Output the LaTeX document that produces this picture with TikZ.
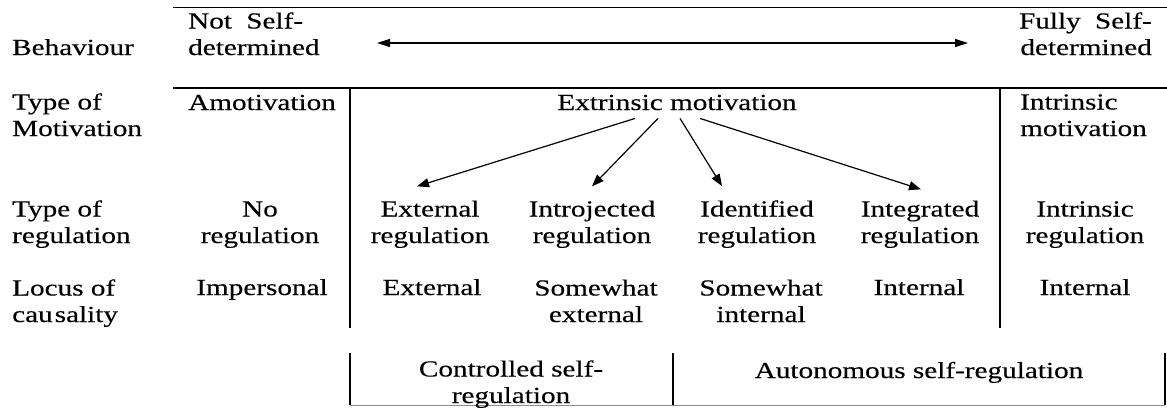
\documentclass[tikz,border=0pt]{standalone}
\usepackage{fontspec}
\setmainfont{Liberation Serif}[FakeStretch=1.27,FakeBold=0.3]
\usetikzlibrary{arrows.meta,calc}
\begin{document}
\begin{tikzpicture}[x=1pt,y=-1pt,
  txt/.style={inner sep=0pt,font=\fontsize{23}{26.5}\selectfont},
  ctr/.style={txt,align=center,anchor=base},
  lft/.style={txt,align=left,anchor=base west},
  rgt/.style={txt,align=right,anchor=base east},
  thinrule/.style={line width=1pt},
  thickrule/.style={line width=2pt},
  vrule/.style={line width=1.4pt},
  arr/.style={line width=1.2pt,-{Triangle[length=12pt,width=9pt]}},
  dblarr/.style={line width=1.2pt,{Triangle[length=13pt,width=8pt]}-{Triangle[length=13pt,width=8pt]}}]
\useasboundingbox (0,0) rectangle (1167,407);
% rules
\coordinate (tl) at (173,7);   \coordinate (tr) at (1167,7);
\coordinate (ml) at (173,88);  \coordinate (mr) at (1167,88);
\draw[thinrule] (tl) -- (tr);
\draw[thickrule] (ml) -- (mr);
\coordinate (v1t) at (350,88);  \coordinate (v1b) at (350,328);
\coordinate (v2t) at (1000,88); \coordinate (v2b) at (1000,328);
\draw[vrule] (v1t) -- (v1b);
\draw[vrule] (v2t) -- (v2b);
\coordinate (b1) at (350,353); \coordinate (b2) at (350,405);
\coordinate (b3) at (1165,405); \coordinate (b4) at (1165,353);
\coordinate (b5) at (673,353); \coordinate (b6) at (673,405);
\draw[vrule] (b1) -- (b2);
\draw[vrule] (b4) -- (b3);
\draw[vrule] (b5) -- (b6);
\draw[line width=1pt,black!45] (b2) -- (b3);
% row 1 (base anchor = baseline of last line)
\node[lft] (beh) at (12,55) {Behaviour};
\node[lft] (nsd) at (188,55) {Not\hspace{7pt} Self-\\determined};
\node[rgt] (fsd) at (1152,55) {Fully\hspace{7pt} Self-\\determined};
\coordinate (al) at (377,43); \coordinate (ar) at (968,43);
\draw[dblarr] (al) -- (ar);
% row 2
\node[lft] (tom) at (12,136) {Type of\\Motivation};
\node[lft] (amo) at (188,110) {Amotivation};
\node[ctr] (em) at (677,110) {Extrinsic motivation};
\node[lft] (im) at (1020,136) {Intrinsic\\motivation};
% row 3
\node[lft] (tor) at (12,243) {Type of\\regulation};
\node[ctr] (nr) at (260,243) {No\\regulation};
\node[ctr] (ext) at (430,243) {External\\regulation};
\node[ctr] (intro) at (592,243) {Introjected\\regulation};
\node[ctr] (ident) at (757,243) {Identified\\regulation};
\node[ctr] (integ) at (920,243) {Integrated\\regulation};
\node[ctr] (intr) at (1085,243) {Intrinsic\\regulation};
% row 4
\node[lft] (loc) at (12,322) {Locus of\\cau\kern2pt sality};
\node[ctr] (imp) at (262,295) {Impersonal};
\node[ctr] (lext) at (432,295) {External};
\node[ctr] (swe) at (596,322) {Somewhat\\external};
\node[ctr] (swi) at (761,322) {Somewhat\\internal};
\node[ctr] (lint) at (919,295) {Internal};
\node[ctr] (rint) at (1085,295) {Internal};
% row 5
\node[ctr] (csr) at (511,403) {Controlled self-\\regulation};
\node[ctr] (asr) at (919,378) {Autonomous self-regulation};
% arrows
\draw[arr] ([shift={(-42,8)}]em.south) -- ([shift={(-13,-14)}]ext.north);
\draw[arr] ([shift={(-19,8)}]em.south) -- ([shift={(0,-14)}]intro.north);
\draw[arr] ([shift={(3,8)}]em.south) -- ([shift={(-35,-14)}]ident.north);
\draw[arr] ([shift={(23,8)}]em.south) -- ([shift={(1,-11)}]integ.north);
\end{tikzpicture}
\end{document}
